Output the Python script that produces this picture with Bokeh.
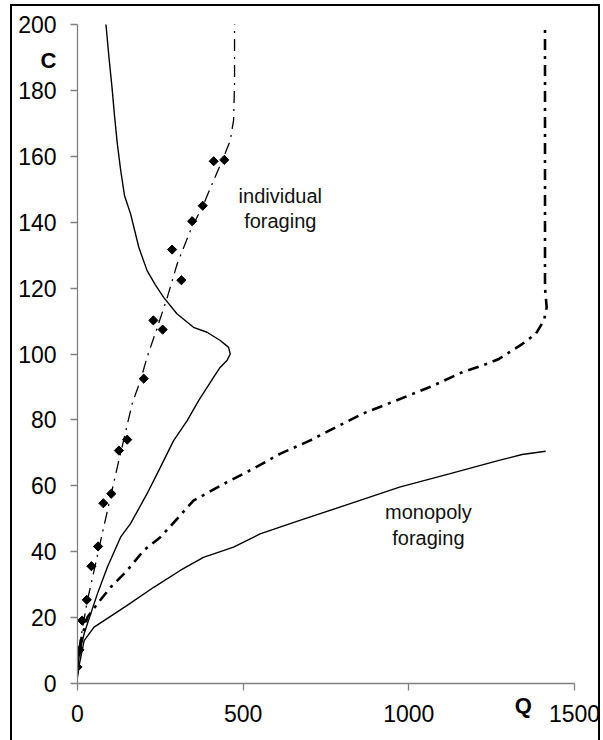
from bokeh.plotting import figure
from bokeh.models import Range1d, FixedTicker, InlineStyleSheet
from bokeh.layouts import column
from bokeh.core.properties import value
from bokeh.embed import file_html
from bokeh.resources import INLINE
import numpy as np

# ---------------- data ----------------
# solid curve, individual foraging
ind_solid_q = [85, 95, 105, 112, 120, 130, 142, 160, 185, 210, 235, 260, 300, 350, 391, 431,
               456, 461, 451, 431, 411, 366, 331, 290, 250, 210, 160, 130, 90, 60, 40, 20, 5, 0]
ind_solid_c = [201, 190, 180, 172, 164, 156, 148, 142.6, 132.4, 125.3, 121, 117.2, 112.2, 108.1, 106.6, 104.1,
               102, 100, 98, 96, 93, 85.9, 79.8, 73.7, 65.6, 57.6, 48.5, 44.4, 35.3, 27.2, 21.2, 15.1, 9, 2]

# dash-dot curve, individual foraging
ind_dd_q = [0, 5, 30, 70, 120, 165, 190, 210, 241, 271, 301, 341, 381, 411, 441, 461, 471, 474, 474]
ind_dd_c = [2, 11, 25.2, 43.4, 65.6, 84.9, 92, 99, 108.1, 117.2, 127.4, 137.5, 145.6, 152.7, 159.7,
            164.8, 170.9, 182, 201]

# observed points (diamonds)
obs_q = [0, 6, 14, 28, 42, 62, 78, 102, 125, 150, 200, 229, 257, 285.5, 313.5, 346, 378, 411, 443]
obs_c = [5, 10.2, 19.1, 25.4, 35.6, 41.6, 54.7, 57.6, 70.7, 74, 92.5, 110.2, 107.4, 131.7, 122.4,
         140.3, 145, 158.5, 158.9]

# solid curve, monopoly foraging
mon_solid_q = [0, 20, 50, 80, 150, 230, 310, 380, 471, 551, 671, 821, 972, 1122, 1272, 1342, 1413]
mon_solid_c = [3, 13, 17.1, 19.1, 23.7, 29.2, 34.3, 38.3, 41.4, 45.4, 49.5, 54.5, 59.6, 63.6, 67.7, 69.5, 70.5]

# dash-dot curve, monopoly foraging
mon_dd_q = [0, 10, 30, 60, 100, 150, 200, 250, 301, 350, 451, 531, 611, 701, 761, 861, 962, 1062,
            1162, 1222, 1272, 1343, 1383, 1408, 1416, 1411, 1411]
mon_dd_c = [3, 13, 20.1, 24.2, 29.2, 34.3, 40.4, 44.4, 50, 55.5, 61.1, 65.2, 69.7, 73.7, 76.8, 81.9,
            85.9, 89.9, 94.5, 96.5, 98.5, 103.1, 106.1, 110.2, 114.2, 120, 201]

x_ticks = [0, 500, 1000, 1500]
y_ticks = [0, 20, 40, 60, 80, 100, 120, 140, 160, 180, 200]
axis_names = ["C", "Q"]

# ---------------- main figure ----------------
FONT = "Liberation Sans"
frame_css = InlineStyleSheet(css="""
:host { position: relative; }
:host::after {
  content: ""; position: absolute; left: 10px; top: 4px; width: 590px; height: 780px;
  border: 2px solid black; pointer-events: none; box-sizing: border-box;
}
""")

main = figure(width=603, height=740, output_backend="svg", toolbar_location=None,
              x_range=Range1d(0, 1500), y_range=Range1d(0, 200),
              min_border_left=77, min_border_right=29, min_border_top=24, min_border_bottom=57)
main.stylesheets = [frame_css]
main.frame_align = False
main.outline_line_color = None
main.grid.visible = False
main.background_fill_color = "white"
main.border_fill_color = "white"

for ax in (main.xaxis[0], main.yaxis[0]):
    ax.axis_line_color = "#808080"
    ax.axis_line_width = 1.3
    ax.major_tick_line_color = "#808080"
    ax.major_tick_line_width = 1.3
    ax.major_tick_out = 7
    ax.major_tick_in = 0
    ax.minor_tick_line_color = None
    ax.major_label_text_font = FONT
    ax.major_label_text_font_size = "23px"
    ax.major_label_text_color = "black"
main.xaxis[0].ticker = FixedTicker(ticks=x_ticks)
main.yaxis[0].ticker = FixedTicker(ticks=y_ticks)
main.xaxis[0].major_label_standoff = 14
main.yaxis[0].major_label_standoff = 14

# curves
main.line(ind_solid_q, ind_solid_c, line_color="black", line_width=1.4)
main.line(mon_solid_q, mon_solid_c, line_color="black", line_width=1.4)
main.line(ind_dd_q, ind_dd_c, line_color="black", line_width=1.3, line_dash="12 6 2 6")
main.line(mon_dd_q, mon_dd_c, line_color="black", line_width=2.6, line_dash="11 6 3 6")
main.scatter(obs_q, obs_c, marker="square", size=6.5, angle=np.pi / 4,
             fill_color="black", line_color="black")

# annotations inside plot
main.text(x=[612, 612], y=[147.8, 140.5], text=["individual", "foraging"],
          text_font=value(FONT), text_font_size="20px", text_align="center",
          text_baseline="middle", text_color="#111111")
main.text(x=[1059, 1059], y=[51.9, 44.3], text=["monopoly", "foraging"],
          text_font=value(FONT), text_font_size="20px", text_align="center",
          text_baseline="middle", text_color="#111111")

# ---------------- transparent overlay for the axis names (outside the frame) ----------------
ov = figure(width=603, height=740, output_backend="svg", toolbar_location=None,
            x_range=Range1d(0, 603), y_range=Range1d(740, 0), min_border=0)
ov.frame_align = False
ov.axis.visible = False
ov.grid.visible = False
ov.outline_line_color = None
ov.background_fill_color = None
ov.border_fill_color = None
ov.text(x=[48, 522.7], y=[60, 705], text=axis_names,
        text_font=value(FONT), text_font_size="22px", text_font_style="bold",
        text_align="center", text_baseline="middle", text_color="black")
ov.margin = (-740, 0, 0, 0)

p = column(main, ov, spacing=0)

open("out.html", "w").write(file_html(p, INLINE))
